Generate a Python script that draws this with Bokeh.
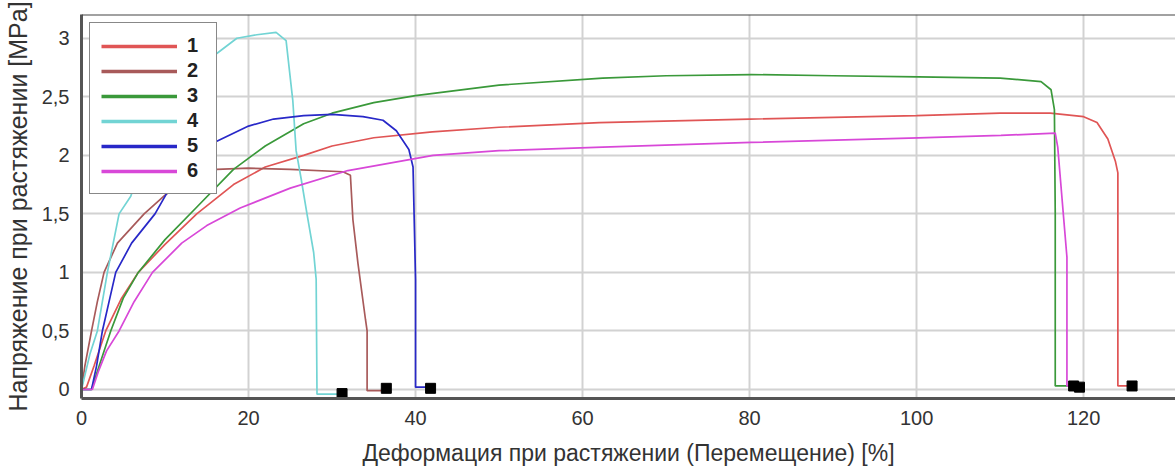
from bokeh.plotting import figure
from bokeh.models import Legend, LegendItem, FixedTicker, Range1d, Span
from bokeh.embed import file_html
from bokeh.resources import INLINE

# ---- data ----
x1 = [0, 0.6, 1.5, 2.9, 4.8, 6.8, 10, 13.8, 18.2, 22, 26.6, 30, 35, 42, 50, 62, 80, 100, 110, 116, 120, 121.6, 122.9, 123.8, 124.1, 124.1, 125.8]
y1 = [0, 0.02, 0.2, 0.5, 0.78, 1.0, 1.24, 1.5, 1.75, 1.9, 2.0, 2.08, 2.15, 2.2, 2.24, 2.28, 2.31, 2.34, 2.36, 2.36, 2.33, 2.28, 2.14, 1.95, 1.85, 0.03, 0.03]

x2 = [0, 0.4, 1.2, 1.9, 2.7, 4.3, 7.5, 10, 13, 16.2, 20, 25, 31.3, 32.2, 32.5, 33.1, 34.0, 34.2, 34.2, 36.5]
y2 = [0, 0.2, 0.5, 0.75, 1.0, 1.25, 1.5, 1.66, 1.8, 1.88, 1.89, 1.88, 1.86, 1.83, 1.45, 1.08, 0.6, 0.5, -0.01, -0.01]

x3 = [0, 1.2, 2.2, 3.5, 5.0, 6.8, 10, 13.7, 18.2, 22, 26.6, 30, 35, 40, 50, 62.4, 70, 80.2, 90, 100.2, 110, 114.9, 116.1, 116.5, 116.6, 116.6, 118.4]
y3 = [0, 0.0, 0.22, 0.5, 0.78, 1.0, 1.28, 1.55, 1.88, 2.08, 2.27, 2.36, 2.45, 2.51, 2.6, 2.66, 2.68, 2.69, 2.68, 2.67, 2.66, 2.63, 2.56, 2.39, 1.5, 0.03, 0.03]

x4 = [0, 1.0, 1.9, 3.1, 4.5, 5.9, 8, 10, 12, 14, 16.2, 18.6, 21, 23.3, 24.5, 25.3, 25.7, 26.3, 27.0, 27.8, 28.1, 28.2, 31.2]
y4 = [0, 0.3, 0.5, 1.0, 1.5, 1.65, 2.1, 2.4, 2.65, 2.8, 2.87, 3.0, 3.03, 3.05, 2.98, 2.47, 2.04, 1.8, 1.5, 1.17, 0.94, -0.04, -0.04]

x5 = [0, 1.2, 1.8, 2.5, 3.3, 4.1, 6, 8.8, 10.8, 13.4, 16.2, 20, 23, 26.6, 30, 33.7, 36.1, 37.7, 39.2, 39.7, 40.0, 40.0, 41.8]
y5 = [0, 0, 0.2, 0.5, 0.75, 1.0, 1.25, 1.5, 1.75, 2.0, 2.12, 2.25, 2.31, 2.34, 2.35, 2.33, 2.3, 2.21, 2.05, 1.9, 0.94, 0.02, 0.02]

x6 = [0, 1.3, 2.0, 3.0, 4.5, 6.3, 8.5, 12, 15, 19, 25, 31.9, 42.1, 50, 62.4, 80.2, 100.2, 110.1, 116.6, 116.9, 117.6, 118.0, 118.0, 119.3]
y6 = [0, 0, 0.15, 0.33, 0.5, 0.75, 1.0, 1.25, 1.4, 1.55, 1.72, 1.87, 2.0, 2.04, 2.07, 2.11, 2.15, 2.17, 2.19, 2.07, 1.47, 1.13, 0.03, 0.03]

end_x = [31.2, 36.5, 41.8, 118.8, 119.5, 125.8]
end_y = [-0.035, 0.01, 0.01, 0.03, 0.02, 0.03]

labels = ["1", "2", "3", "4", "5", "6"]
colors = ["#e05555", "#a85a5a", "#3a993a", "#72d4d4", "#2828c8", "#d848d8"]

x_ticks = [0, 20, 40, 60, 80, 100, 120]
y_ticks = [0, 0.5, 1, 1.5, 2, 2.5, 3]
y_tick_labels = ["0", "0,5", "1", "1,5", "2", "2,5", "3"]

X_MIN, X_MAX = 0, 131.0
Y_MIN, Y_MAX = -0.077, 3.203

FONT = "Liberation Sans"

p = figure(width=1175, height=468, output_backend="svg", toolbar_location=None,
           x_range=Range1d(X_MIN, X_MAX), y_range=Range1d(Y_MIN, Y_MAX),
           min_border_left=78, min_border_right=0, min_border_top=14, min_border_bottom=69)

p.background_fill_color = "white"
p.border_fill_color = "white"
p.outline_line_color = None

# top frame line
p.add_layout(Span(location=Y_MAX, dimension="width", line_color="#444444", line_width=2))

# grids
p.xgrid.ticker = FixedTicker(ticks=x_ticks)
p.ygrid.ticker = FixedTicker(ticks=y_ticks)
for g in (p.xgrid, p.ygrid):
    g.grid_line_color = "#d2d2d2"
    g.grid_line_width = 2

# axes
p.xaxis.ticker = FixedTicker(ticks=x_ticks)
p.yaxis.ticker = FixedTicker(ticks=y_ticks)
p.yaxis.major_label_overrides = {t: s for t, s in zip(y_ticks, y_tick_labels)}
for ax in (p.xaxis[0], p.yaxis[0]):
    ax.axis_line_color = "#555555"
    ax.axis_line_width = 3
    ax.major_tick_line_color = None
    ax.minor_tick_line_color = None
    ax.major_label_text_font = FONT
    ax.major_label_text_font_size = "20px"
    ax.major_label_text_color = "#333333"
    ax.axis_label_text_font = FONT
    ax.axis_label_text_font_style = "normal"
    ax.axis_label_text_color = "#333333"
p.xaxis.axis_label = "Деформация при растяжении (Перемещение) [%]"
p.yaxis.axis_label = "Напряжение при растяжении [MPa]"
p.xaxis.axis_label_text_font_size = "23px"
p.yaxis.axis_label_text_font_size = "25px"
p.xaxis.major_label_standoff = 6
p.yaxis.major_label_standoff = 6
p.xaxis.axis_label_standoff = 12
p.yaxis.axis_label_standoff = 7

xs = [x1, x2, x3, x4, x5, x6]
ys = [y1, y2, y3, y4, y5, y6]
for xx, yy, c in zip(xs, ys, colors):
    p.line(xx, yy, line_color=c, line_width=1.7)

p.scatter(end_x, end_y, marker="square", size=10, color="black")

# legend (thicker lines for legend entries; placeholder renderers draw nothing)
nan = float("nan")
items = []
for lab, c in zip(labels, colors):
    r = p.line([nan], [nan], line_color=c, line_width=3.5)
    items.append(LegendItem(label=lab, renderers=[r]))
legend = Legend(items=items, location="top_left", margin=8, padding=11,
                glyph_width=76, glyph_height=20, label_height=20, spacing=2,
                label_standoff=10, label_width=18,
                label_text_font=FONT, label_text_font_style="bold",
                label_text_font_size="20px", label_text_color="#222222",
                border_line_color="#111111", border_line_width=1.5,
                background_fill_color="white", background_fill_alpha=1.0)
p.add_layout(legend)

open("out.html", "w").write(file_html(p, INLINE))
